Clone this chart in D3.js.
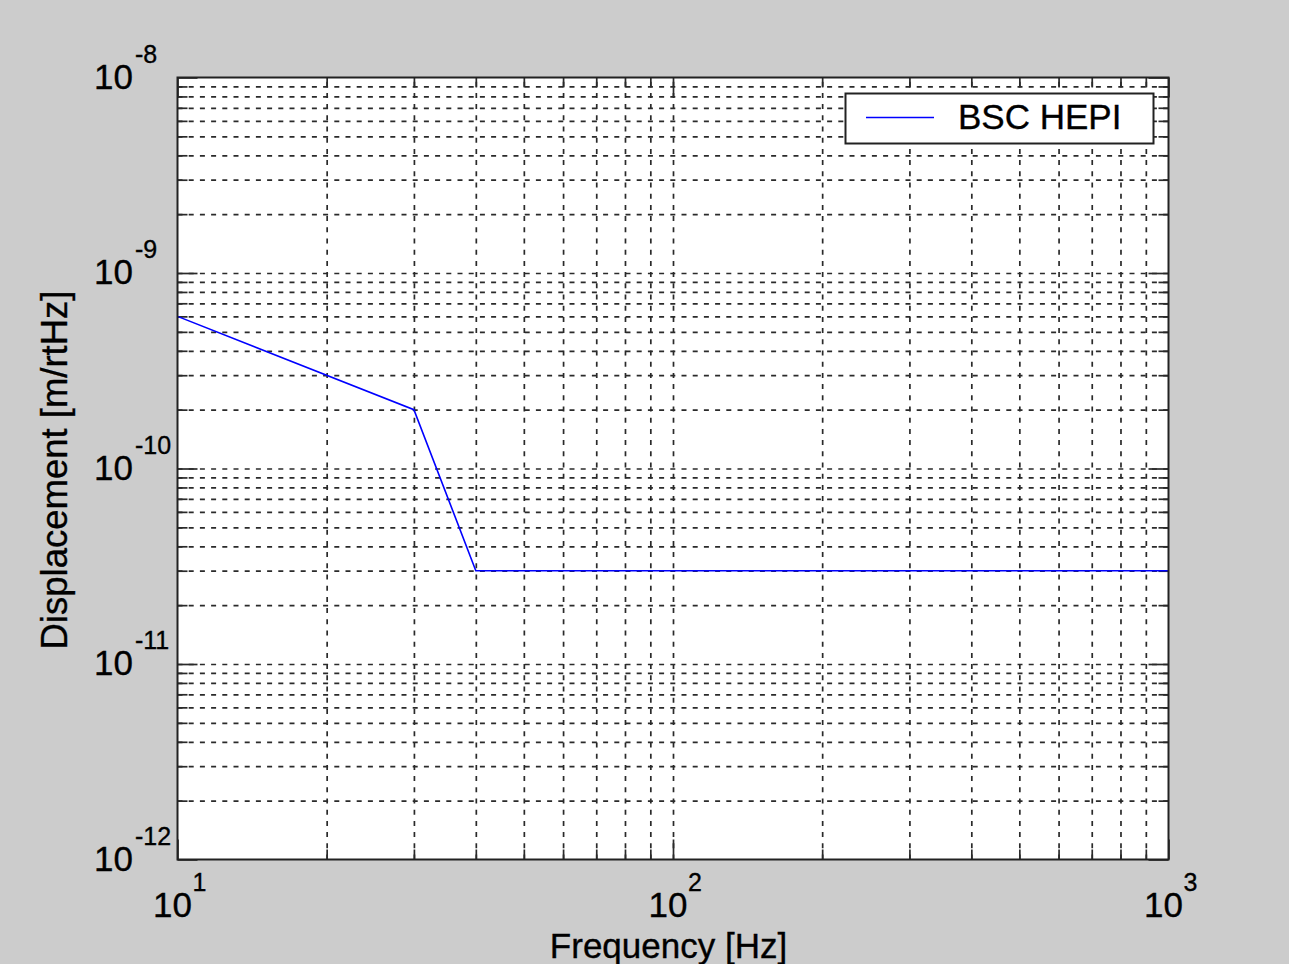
<!DOCTYPE html>
<html>
<head>
<meta charset="utf-8">
<script src="https://cdn.jsdelivr.net/npm/d3@7"></script>
<style>
  html, body { margin: 0; padding: 0; background: #cccccc; }
  svg { display: block; font-family: "Liberation Sans", Arial, Helvetica, sans-serif; }
  text { stroke: #000; stroke-width: 0.35px; }
</style>
</head>
<body>
<svg id="chart" width="1289" height="964"></svg>
<script>
// ---- data ----
const frequency = [10, 30, 40, 1000];            // Hz
const displacement = [6e-10, 2e-10, 3e-11, 3e-11]; // m/rtHz
const seriesName = "BSC HEPI";
const xMajorTicks = [10, 100, 1000];
const xMajorExp = ["1", "2", "3"];
const yMajorTicks = [1e-12, 1e-11, 1e-10, 1e-9, 1e-8];
const yMajorExp = ["-12", "-11", "-10", "-9", "-8"];
const xLabel = "Frequency [Hz]";
const yLabel = "Displacement [m/rtHz]";

// ---- layout ----
const svg = d3.select("#chart");
const L = 177.5, R = 1168.5, T = 77.5, B = 859.5;
const x = d3.scaleLog().domain([10, 1000]).range([L, R]);
const y = d3.scaleLog().domain([1e-12, 1e-8]).range([B, T]);

function allTicks(lo, hi) {
  const out = [];
  for (let e = Math.round(Math.log10(lo)); e < Math.round(Math.log10(hi)); e++) {
    for (let m = 1; m <= 9; m++) out.push(+(m * Math.pow(10, e)).toPrecision(3));
  }
  out.push(hi);
  return out;
}
const xAll = allTicks(10, 1000);
const yAll = allTicks(1e-12, 1e-8);
const xMinor = xAll.filter(v => !xMajorTicks.some(m => Math.abs(m - v) / m < 1e-6));
const yMinor = yAll.filter(v => !yMajorTicks.some(m => Math.abs(m - v) / m < 1e-6));
const xInner = xAll.filter(v => v > 10 && v < 1000);
const yInner = yAll.filter(v => v > 1e-12 && v < 1e-8);

// plot background
svg.append("rect").attr("x", L).attr("y", T).attr("width", R - L).attr("height", B - T)
  .attr("fill", "#ffffff");

const dash = "5,6.2";
const gridColor = "#2a2a2a";
const gridW = 1.7;

// grid lines (dashed) via axes
const gx = svg.append("g").attr("transform", `translate(0,${T})`)
  .call(d3.axisTop(x).tickValues(xInner).tickSize(-(B - T)).tickFormat(""));
gx.select(".domain").remove();
gx.selectAll(".tick line").attr("stroke", gridColor).attr("stroke-width", gridW)
  .attr("y1", B - T).attr("y2", 0).attr("stroke-dasharray", dash);

const gy = svg.append("g").attr("transform", `translate(${L},0)`)
  .call(d3.axisLeft(y).tickValues(yInner).tickSize(-(R - L)).tickFormat(""));
gy.select(".domain").remove();
gy.selectAll(".tick line").attr("stroke", gridColor).attr("stroke-width", gridW)
  .attr("x1", 0).attr("x2", R - L).attr("stroke-dasharray", dash);

// tick marks (inward) on all four sides
function ticks(axisFn, scale, vals, size, tx, ty) {
  const g = svg.append("g").attr("transform", `translate(${tx},${ty})`)
    .call(axisFn(scale).tickValues(vals).tickSize(-size).tickFormat(""));
  g.select(".domain").remove();
  g.selectAll(".tick line").attr("stroke", gridColor).attr("stroke-width", gridW);
}
ticks(d3.axisBottom, x, xMinor, 10, 0, B);
ticks(d3.axisBottom, x, xMajorTicks, 20, 0, B);
ticks(d3.axisTop, x, xMinor, 10, 0, T);
ticks(d3.axisTop, x, xMajorTicks, 20, 0, T);
ticks(d3.axisLeft, y, yMinor, 10, L, 0);
ticks(d3.axisLeft, y, yMajorTicks, 20, L, 0);
ticks(d3.axisRight, y, yMinor, 10, R, 0);
ticks(d3.axisRight, y, yMajorTicks, 20, R, 0);

// data line
const line = d3.line().x((d, i) => x(frequency[i])).y((d, i) => y(displacement[i]));
svg.append("path").datum(frequency).attr("d", line)
  .attr("fill", "none").attr("stroke", "#0000ff").attr("stroke-width", 1.6);

// frame
svg.append("rect").attr("x", L).attr("y", T).attr("width", R - L).attr("height", B - T)
  .attr("fill", "none").attr("stroke", "#222").attr("stroke-width", 2);

// x tick labels
xMajorTicks.forEach((v, i) => {
  const cx = x(v) - 5;
  svg.append("text").attr("x", cx).attr("y", 917).attr("text-anchor", "middle")
    .attr("font-size", 35).attr("fill", "#000").text("10");
  svg.append("text").attr("x", cx + 20).attr("y", 891)
    .attr("font-size", 25).attr("fill", "#000").text(xMajorExp[i]);
});
// y tick labels
yMajorTicks.forEach((v, i) => {
  const cy = y(v);
  svg.append("text").attr("x", 133).attr("y", cy + 11).attr("text-anchor", "end")
    .attr("font-size", 35).attr("fill", "#000").text("10");
  svg.append("text").attr("x", 135).attr("y", cy - 15)
    .attr("font-size", 25).attr("fill", "#000").text(yMajorExp[i]);
});

// axis titles
svg.append("text").attr("x", 668.5).attr("y", 958).attr("text-anchor", "middle")
  .attr("font-size", 35).attr("fill", "#000").text(xLabel);
svg.append("text").attr("transform", "translate(67,470) rotate(-90)")
  .attr("text-anchor", "middle").attr("font-size", 36.5).attr("fill", "#000").text(yLabel);

// legend
svg.append("rect").attr("x", 845.5).attr("y", 93.5).attr("width", 308).attr("height", 50)
  .attr("fill", "#fff").attr("stroke", "#222").attr("stroke-width", 2);
svg.append("line").attr("x1", 866).attr("x2", 934).attr("y1", 117.5).attr("y2", 117.5)
  .attr("stroke", "#0000ff").attr("stroke-width", 1.6);
svg.append("text").attr("x", 958).attr("y", 129).attr("font-size", 35).attr("fill", "#000")
  .text(seriesName);
</script>
</body>
</html>
